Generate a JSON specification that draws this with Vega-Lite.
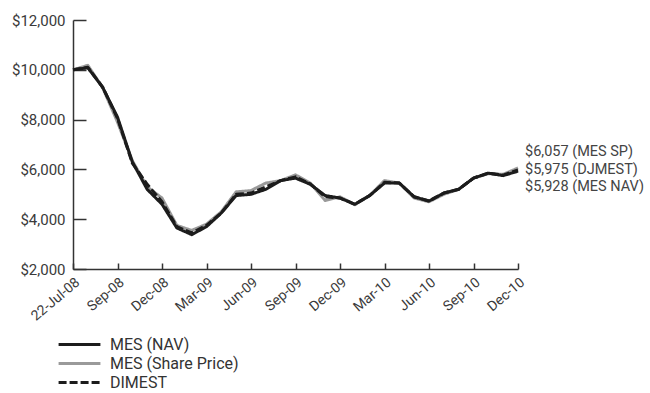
{
  "$schema": "https://vega.github.io/schema/vega-lite/v6.json",
  "width": 445,
  "height": 249,
  "autosize": {"type": "none"},
  "padding": {"left": 73, "top": 20, "right": 132, "bottom": 124},
  "background": "white",
  "config": {
    "font": "Roboto",
    "view": {"stroke": null},
    "axis": {
      "labelFont": "Roboto",
      "labelColor": "#3a3a3a",
      "labelFontSize": 15,
      "domainColor": "#333333",
      "domainWidth": 1.5,
      "tickColor": "#333333",
      "tickWidth": 1.5,
      "grid": false,
      "title": null
    }
  },
  "datasets": {
    "growth": [
      {"m": "22-Jul-08", "nav": 10000, "sp": 10000, "dj": 10000},
      {"m": "Jul-08", "nav": 10080, "sp": 10180, "dj": 10100},
      {"m": "Aug-08", "nav": 9300, "sp": 9280, "dj": 9300},
      {"m": "Sep-08", "nav": 8100, "sp": 7900, "dj": 8050},
      {"m": "Oct-08", "nav": 6300, "sp": 6350, "dj": 6250},
      {"m": "Nov-08", "nav": 5200, "sp": 5300, "dj": 5400},
      {"m": "Dec-08", "nav": 4600, "sp": 4850, "dj": 4700},
      {"m": "Jan-09", "nav": 3650, "sp": 3750, "dj": 3700},
      {"m": "Feb-09", "nav": 3380, "sp": 3550, "dj": 3450},
      {"m": "Mar-09", "nav": 3700, "sp": 3800, "dj": 3750},
      {"m": "Apr-09", "nav": 4250, "sp": 4300, "dj": 4250},
      {"m": "May-09", "nav": 4950, "sp": 5100, "dj": 5000},
      {"m": "Jun-09", "nav": 5000, "sp": 5150, "dj": 5050},
      {"m": "Jul-09", "nav": 5200, "sp": 5450, "dj": 5300},
      {"m": "Aug-09", "nav": 5550, "sp": 5550, "dj": 5550},
      {"m": "Sep-09", "nav": 5650, "sp": 5780, "dj": 5700},
      {"m": "Oct-09", "nav": 5400, "sp": 5450, "dj": 5420},
      {"m": "Nov-09", "nav": 4950, "sp": 4750, "dj": 4900},
      {"m": "Dec-09", "nav": 4850, "sp": 4900, "dj": 4850},
      {"m": "Jan-10", "nav": 4600, "sp": 4580, "dj": 4600},
      {"m": "Feb-10", "nav": 4950, "sp": 4950, "dj": 4950},
      {"m": "Mar-10", "nav": 5450, "sp": 5550, "dj": 5480},
      {"m": "Apr-10", "nav": 5450, "sp": 5450, "dj": 5450},
      {"m": "May-10", "nav": 4900, "sp": 4850, "dj": 4900},
      {"m": "Jun-10", "nav": 4730, "sp": 4700, "dj": 4730},
      {"m": "Jul-10", "nav": 5050, "sp": 5000, "dj": 5050},
      {"m": "Aug-10", "nav": 5200, "sp": 5200, "dj": 5200},
      {"m": "Sep-10", "nav": 5650, "sp": 5650, "dj": 5650},
      {"m": "Oct-10", "nav": 5850, "sp": 5830, "dj": 5850},
      {"m": "Nov-10", "nav": 5750, "sp": 5800, "dj": 5770},
      {"m": "Dec-10", "nav": 5928, "sp": 6057, "dj": 5975}
    ]
  },
  "data": {"name": "growth"},
  "transform": [
    {"fold": ["sp", "dj", "nav"], "as": ["key", "value"]},
    {"calculate": "{'nav': 'MES (NAV)', 'sp': 'MES (Share Price)', 'dj': 'DIMEST'}[datum.key]", "as": "series"}
  ],
  "encoding": {
    "x": {
      "field": "m",
      "type": "ordinal",
      "sort": null,
      "scale": {"type": "point", "padding": 0},
      "axis": {
        "values": ["22-Jul-08", "Sep-08", "Dec-08", "Mar-09", "Jun-09", "Sep-09", "Dec-09", "Mar-10", "Jun-10", "Sep-10", "Dec-10"],
        "labelAngle": -40,
        "labelAlign": "right",
        "labelBaseline": "top",
        "labelFontSize": 14,
        "labelPadding": 12,
        "tickSize": -6
      }
    },
    "y": {
      "field": "value",
      "type": "quantitative",
      "scale": {"domain": [2000, 12000], "nice": false, "zero": false},
      "axis": {
        "values": [2000, 4000, 6000, 8000, 10000, 12000],
        "format": "$,d",
        "tickSize": -13,
        "labelPadding": 21
      }
    }
  },
  "layer": [
    {
      "mark": {"type": "line", "strokeJoin": "round", "strokeCap": "butt"},
      "encoding": {
        "color": {
          "field": "series",
          "type": "nominal",
          "sort": ["MES (NAV)", "MES (Share Price)", "DIMEST"],
          "scale": {"domain": ["MES (NAV)", "MES (Share Price)", "DIMEST"], "range": ["#1c1c1c", "#9a9a9a", "#1c1c1c"]},
          "legend": {
            "title": null,
            "orient": "none",
            "legendX": -16,
            "legendY": 315,
            "symbolType": "stroke",
            "symbolSize": 1750,
            "symbolStrokeWidth": 3,
            "clipHeight": 19,
            "rowPadding": 0,
            "labelFont": "Roboto",
            "labelFontSize": 16,
            "labelColor": "#333333",
            "labelOffset": 8
          }
        },
        "strokeDash": {
          "field": "series",
          "type": "nominal",
          "sort": ["MES (NAV)", "MES (Share Price)", "DIMEST"],
          "scale": {"domain": ["MES (NAV)", "MES (Share Price)", "DIMEST"], "range": [[1, 0], [1, 0], [8, 3]]}
        },
        "strokeWidth": {
          "field": "series",
          "type": "nominal",
          "sort": ["MES (NAV)", "MES (Share Price)", "DIMEST"],
          "scale": {"domain": ["MES (NAV)", "MES (Share Price)", "DIMEST"], "range": [3, 3, 2.6]}
        },
        "order": {"field": "key", "sort": "descending"}
      }
    },
    {
      "transform": [{"filter": "datum.m === 'Dec-10' && datum.key === 'sp'"}],
      "mark": {"type": "text", "align": "left", "baseline": "middle", "dx": 7, "dy": -16, "fontSize": 14.5, "color": "#444444"},
      "encoding": {"text": {"value": "$6,057 (MES SP)"}}
    },
    {
      "transform": [{"filter": "datum.m === 'Dec-10' && datum.key === 'dj'"}],
      "mark": {"type": "text", "align": "left", "baseline": "middle", "dx": 7, "dy": 0, "fontSize": 14.5, "color": "#444444"},
      "encoding": {"text": {"value": "$5,975 (DJMEST)"}}
    },
    {
      "transform": [{"filter": "datum.m === 'Dec-10' && datum.key === 'nav'"}],
      "mark": {"type": "text", "align": "left", "baseline": "middle", "dx": 7, "dy": 16, "fontSize": 14.5, "color": "#444444"},
      "encoding": {"text": {"value": "$5,928 (MES NAV)"}}
    }
  ]
}
